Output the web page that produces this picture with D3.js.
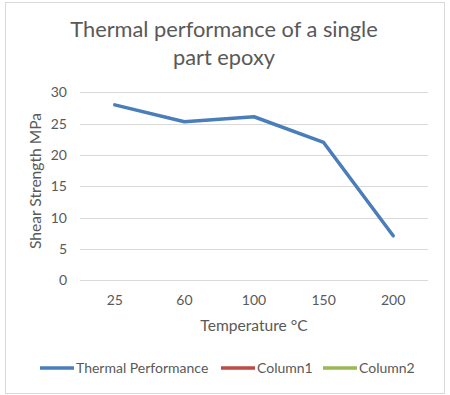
<!DOCTYPE html>
<html>
<head>
<meta charset="utf-8">
<script src="https://cdn.jsdelivr.net/npm/d3@7"></script>
<style>
    body { margin: 0; background: #fff; }
    text { font-family: Lato, "Open Sans", sans-serif; fill: #595959; }
</style>
</head>
<body>
<svg></svg>
<script>
// chart data
var temperatures = ["25", "60", "100", "150", "200"];
var shearStrength = [28, 25.3, 26.1, 22, 7.1];
var yTicks = [0, 5, 10, 15, 20, 25, 30];
var titleLines = ["Thermal performance of a single", "part epoxy"];
var legendItems = ["Thermal Performance", "Column1", "Column2"];
var legendColors = ["#4a7ebb", "#be4b48", "#98b954"];

var svgWidth = 450, svgHeight = 395;
var svg = d3.select("svg")
    .attr("width", svgWidth)
    .attr("height", svgHeight);

// chart border
svg.append("rect")
    .attr("x", 5.5).attr("y", 2.5)
    .attr("width", 439).attr("height", 391)
    .attr("fill", "#fff")
    .attr("stroke", "#d9d9d9");

// title
svg.append("g").selectAll("text")
    .data(titleLines)
    .enter().append("text")
    .attr("x", 224)
    .attr("y", (d, i) => 37 + i * 28)
    .attr("text-anchor", "middle")
    .attr("font-size", "21.8px")
    .text(d => d);

var plot = {left: 80, right: 428, top: 92.3, bottom: 280.3};

var x = d3.scaleBand().domain(temperatures).range([plot.left, plot.right]);
var y = d3.scaleLinear().domain([0, 30]).range([plot.bottom, plot.top]);

// gridlines
svg.append("g").selectAll("line")
    .data(yTicks)
    .enter().append("line")
    .attr("x1", plot.left).attr("x2", plot.right)
    .attr("y1", d => Math.round(y(d)) + 0.5)
    .attr("y2", d => Math.round(y(d)) + 0.5)
    .attr("stroke", "#d9d9d9");

// y tick labels
svg.append("g").selectAll("text")
    .data(yTicks)
    .enter().append("text")
    .attr("x", 67)
    .attr("y", d => y(d) + 5)
    .attr("text-anchor", "end")
    .attr("font-size", "14px")
    .text(d => d);

// x tick labels
svg.append("g").selectAll("text")
    .data(temperatures)
    .enter().append("text")
    .attr("x", d => x(d) + x.bandwidth() / 2)
    .attr("y", 305)
    .attr("text-anchor", "middle")
    .attr("font-size", "14px")
    .text(d => d);

// axis titles
svg.append("text")
    .attr("x", 254)
    .attr("y", 331)
    .attr("text-anchor", "middle")
    .attr("font-size", "15.6px")
    .text("Temperature °C");

svg.append("text")
    .attr("transform", "translate(41,181) rotate(-90)")
    .attr("text-anchor", "middle")
    .attr("font-size", "15.6px")
    .text("Shear Strength MPa");

// the series line
var line = d3.line()
    .x((d, i) => x(temperatures[i]) + x.bandwidth() / 2)
    .y(d => y(d));

svg.append("path")
    .datum(shearStrength)
    .attr("fill", "none")
    .attr("stroke", legendColors[0])
    .attr("stroke-width", 3.5)
    .attr("stroke-linejoin", "round")
    .attr("stroke-linecap", "round")
    .attr("d", line);

// legend
var legendX = [40, 221, 323];
var legend = svg.append("g").selectAll("g")
    .data(legendItems)
    .enter().append("g")
    .attr("transform", (d, i) => "translate(" + legendX[i] + ",368)");

legend.append("line")
    .attr("x1", 0).attr("x2", 34)
    .attr("stroke", (d, i) => legendColors[i])
    .attr("stroke-width", 3.5);

legend.append("text")
    .attr("x", 36)
    .attr("y", 5)
    .attr("font-size", "14px")
    .text(d => d);
</script>
</body>
</html>
